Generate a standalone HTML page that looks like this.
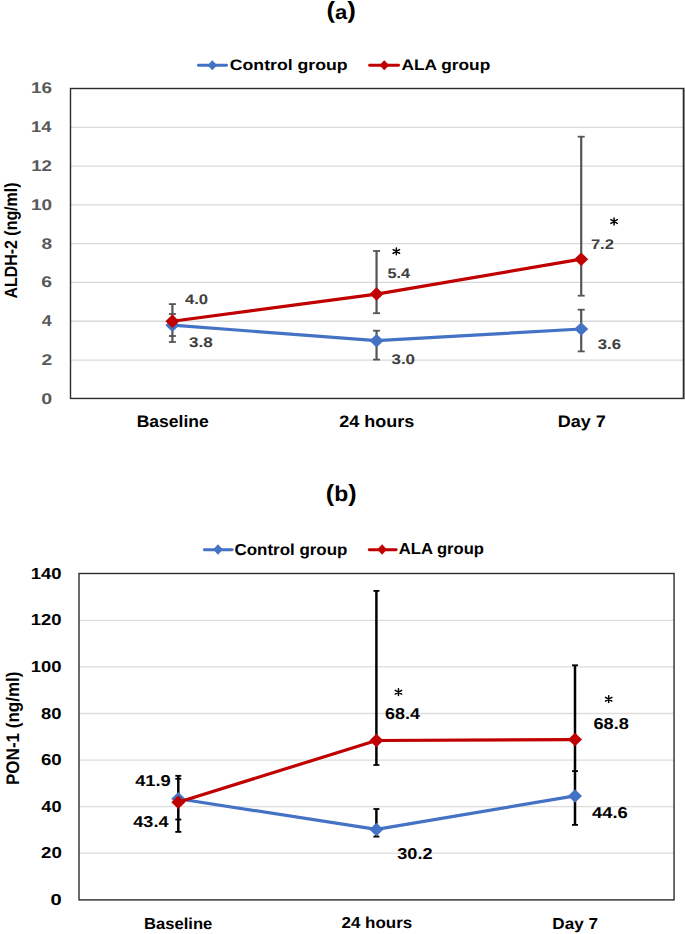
<!DOCTYPE html>
<html><head><meta charset="utf-8"><title>ALDH-2 and PON-1 charts</title>
<style>
html,body{margin:0;padding:0;background:#fff;width:685px;height:934px;overflow:hidden}
svg{display:block}
text{font-family:"Liberation Sans",sans-serif;font-weight:bold;text-rendering:geometricPrecision}
</style></head><body>
<svg width="685" height="934" viewBox="0 0 685 934">
<rect x="0" y="0" width="685" height="934" fill="#fff"/>
<line x1="198.45" y1="65.2" x2="226.55" y2="65.2" stroke="#4472C4" stroke-width="2.9" stroke-linecap="round"/>
<path d="M207.50 65.20L212.30 60.20L217.10 65.20L212.30 70.20Z" fill="#4472C4"/>
<line x1="369.65" y1="65.2" x2="398.55" y2="65.2" stroke="#C00000" stroke-width="2.9" stroke-linecap="round"/>
<path d="M379.45 65.20L384.25 60.20L389.05 65.20L384.25 70.20Z" fill="#C00000"/>
<line x1="70.5" y1="360.06" x2="683.4" y2="360.06" stroke="#D9D9D9" stroke-width="1.3"/>
<line x1="70.5" y1="321.26" x2="683.4" y2="321.26" stroke="#D9D9D9" stroke-width="1.3"/>
<line x1="70.5" y1="282.47" x2="683.4" y2="282.47" stroke="#D9D9D9" stroke-width="1.3"/>
<line x1="70.5" y1="243.67" x2="683.4" y2="243.67" stroke="#D9D9D9" stroke-width="1.3"/>
<line x1="70.5" y1="204.88" x2="683.4" y2="204.88" stroke="#D9D9D9" stroke-width="1.3"/>
<line x1="70.5" y1="166.09" x2="683.4" y2="166.09" stroke="#D9D9D9" stroke-width="1.3"/>
<line x1="70.5" y1="127.29" x2="683.4" y2="127.29" stroke="#D9D9D9" stroke-width="1.3"/>
<rect x="70.5" y="88.5" width="612.90" height="309.95" fill="none" stroke="#2b2b2b" stroke-width="1.4"/>
<rect x="684" y="87.8" width="1" height="311.4" fill="#858585"/>
<line x1="172.4" y1="304.1" x2="172.4" y2="342" stroke="#555555" stroke-width="2.2"/><line x1="168.90" y1="304.1" x2="175.90" y2="304.1" stroke="#555555" stroke-width="1.8"/><line x1="168.90" y1="314" x2="175.90" y2="314" stroke="#555555" stroke-width="1.8"/><line x1="168.90" y1="336" x2="175.90" y2="336" stroke="#555555" stroke-width="1.8"/><line x1="168.90" y1="342" x2="175.90" y2="342" stroke="#555555" stroke-width="1.8"/>
<line x1="376.55" y1="250.96" x2="376.55" y2="313.2" stroke="#555555" stroke-width="2.2"/><line x1="373.05" y1="250.96" x2="380.05" y2="250.96" stroke="#555555" stroke-width="1.8"/><line x1="373.05" y1="313.2" x2="380.05" y2="313.2" stroke="#555555" stroke-width="1.8"/>
<line x1="376.55" y1="330.7" x2="376.55" y2="359.6" stroke="#555555" stroke-width="2.2"/><line x1="373.05" y1="330.7" x2="380.05" y2="330.7" stroke="#555555" stroke-width="1.8"/><line x1="373.05" y1="359.6" x2="380.05" y2="359.6" stroke="#555555" stroke-width="1.8"/>
<line x1="581.2" y1="136.7" x2="581.2" y2="295.7" stroke="#555555" stroke-width="2.2"/><line x1="577.70" y1="136.7" x2="584.70" y2="136.7" stroke="#555555" stroke-width="1.8"/><line x1="577.70" y1="295.7" x2="584.70" y2="295.7" stroke="#555555" stroke-width="1.8"/>
<line x1="581.2" y1="309.7" x2="581.2" y2="351.4" stroke="#555555" stroke-width="2.2"/><line x1="577.70" y1="309.7" x2="584.70" y2="309.7" stroke="#555555" stroke-width="1.8"/><line x1="577.70" y1="351.4" x2="584.70" y2="351.4" stroke="#555555" stroke-width="1.8"/>
<polyline points="172.4,325.14 376.55,340.66 581.2,329.02" fill="none" stroke="#4472C4" stroke-width="3.2" stroke-linejoin="round"/>
<path d="M165.40 325.14L172.40 318.39L179.40 325.14L172.40 331.89Z" fill="#4472C4"/>
<path d="M369.55 340.66L376.55 333.91L383.55 340.66L376.55 347.41Z" fill="#4472C4"/>
<path d="M574.20 329.02L581.20 322.27L588.20 329.02L581.20 335.77Z" fill="#4472C4"/>
<polyline points="172.4,321.26 376.55,294.11 581.2,259.19" fill="none" stroke="#C00000" stroke-width="3.2" stroke-linejoin="round"/>
<path d="M165.40 321.26L172.40 314.51L179.40 321.26L172.40 328.01Z" fill="#C00000"/>
<path d="M369.55 294.11L376.55 287.36L383.55 294.11L376.55 300.86Z" fill="#C00000"/>
<path d="M574.20 259.19L581.20 252.44L588.20 259.19L581.20 265.94Z" fill="#C00000"/>
<path d="M396.35 248.00V254.80M393.15 249.55L399.55 253.25M393.15 253.25L399.55 249.55" stroke="#000" stroke-width="1.5" stroke-linecap="round" fill="none"/>
<path d="M614.06 218.10V224.90M610.86 219.65L617.26 223.35M610.86 223.35L617.26 219.65" stroke="#000" stroke-width="1.5" stroke-linecap="round" fill="none"/>
<line x1="204.35" y1="549.7" x2="232.15" y2="549.7" stroke="#4472C4" stroke-width="2.9" stroke-linecap="round"/>
<path d="M213.20 549.50L218.00 544.25L222.80 549.50L218.00 554.75Z" fill="#4472C4"/>
<line x1="369.25" y1="549.7" x2="396.15" y2="549.7" stroke="#C00000" stroke-width="2.9" stroke-linecap="round"/>
<path d="M377.30 549.60L382.10 544.35L386.90 549.60L382.10 554.85Z" fill="#C00000"/>
<line x1="79" y1="853.20" x2="674.05" y2="853.20" stroke="#DDDDDD" stroke-width="1.3"/>
<line x1="79" y1="806.63" x2="674.05" y2="806.63" stroke="#DDDDDD" stroke-width="1.3"/>
<line x1="79" y1="760.07" x2="674.05" y2="760.07" stroke="#DDDDDD" stroke-width="1.3"/>
<line x1="79" y1="713.50" x2="674.05" y2="713.50" stroke="#DDDDDD" stroke-width="1.3"/>
<line x1="79" y1="666.93" x2="674.05" y2="666.93" stroke="#DDDDDD" stroke-width="1.3"/>
<line x1="79" y1="620.36" x2="674.05" y2="620.36" stroke="#DDDDDD" stroke-width="1.3"/>
<rect x="79" y="573.5" width="595.05" height="326.40" fill="none" stroke="#2b2b2b" stroke-width="1.4"/>
<line x1="178.3" y1="775.8" x2="178.3" y2="831.9" stroke="#000" stroke-width="2.5"/><line x1="175.30" y1="775.8" x2="181.30" y2="775.8" stroke="#000" stroke-width="1.8"/><line x1="175.30" y1="778.8" x2="181.30" y2="778.8" stroke="#000" stroke-width="1.8"/><line x1="175.30" y1="819.5" x2="181.30" y2="819.5" stroke="#000" stroke-width="1.8"/><line x1="175.30" y1="831.9" x2="181.30" y2="831.9" stroke="#000" stroke-width="1.8"/>
<line x1="376.4" y1="590.9" x2="376.4" y2="765" stroke="#000" stroke-width="2.5"/><line x1="373.40" y1="590.9" x2="379.40" y2="590.9" stroke="#000" stroke-width="1.8"/><line x1="373.40" y1="765" x2="379.40" y2="765" stroke="#000" stroke-width="1.8"/>
<line x1="376.4" y1="809" x2="376.4" y2="836.6" stroke="#000" stroke-width="2.5"/><line x1="373.40" y1="809" x2="379.40" y2="809" stroke="#000" stroke-width="1.8"/><line x1="373.40" y1="836.6" x2="379.40" y2="836.6" stroke="#000" stroke-width="1.8"/>
<line x1="575.0" y1="665.3" x2="575.0" y2="824.9" stroke="#000" stroke-width="2.5"/><line x1="572.00" y1="665.3" x2="578.00" y2="665.3" stroke="#000" stroke-width="1.8"/><line x1="572.00" y1="771.1" x2="578.00" y2="771.1" stroke="#000" stroke-width="1.8"/><line x1="572.00" y1="824.9" x2="578.00" y2="824.9" stroke="#000" stroke-width="1.8"/>
<polyline points="178.3,798.72 376.4,829.45 575.0,795.92" fill="none" stroke="#4472C4" stroke-width="3.2" stroke-linejoin="round"/>
<path d="M171.30 798.72L178.30 791.97L185.30 798.72L178.30 805.47Z" fill="#4472C4"/>
<path d="M369.40 829.45L376.40 822.70L383.40 829.45L376.40 836.20Z" fill="#4472C4"/>
<path d="M568.00 795.92L575.00 789.17L582.00 795.92L575.00 802.67Z" fill="#4472C4"/>
<polyline points="178.3,802.21 376.4,740.51 575.0,739.58" fill="none" stroke="#C00000" stroke-width="3.2" stroke-linejoin="round"/>
<path d="M171.30 802.21L178.30 795.46L185.30 802.21L178.30 808.96Z" fill="#C00000"/>
<path d="M369.40 740.51L376.40 733.76L383.40 740.51L376.40 747.26Z" fill="#C00000"/>
<path d="M568.00 739.58L575.00 732.83L582.00 739.58L575.00 746.33Z" fill="#C00000"/>
<path d="M398.46 688.80V695.60M395.26 690.35L401.66 694.05M395.26 694.05L401.66 690.35" stroke="#000" stroke-width="1.5" stroke-linecap="round" fill="none"/>
<path d="M608.67 695.80V702.60M605.47 697.35L611.87 701.05M605.47 701.05L611.87 697.35" stroke="#000" stroke-width="1.5" stroke-linecap="round" fill="none"/>
<text x="326.46" y="18.45" font-size="23.41" fill="#000" textLength="29.51" lengthAdjust="spacingAndGlyphs">(<tspan font-size="20.00" dy="0.9">a</tspan><tspan dy="-0.9">)</tspan></text>
<text x="229.75" y="69.91" font-size="15.14" fill="#000" textLength="117.93" lengthAdjust="spacingAndGlyphs">Control group</text>
<text x="401.56" y="70.03" font-size="15.14" fill="#000" textLength="88.69" lengthAdjust="spacingAndGlyphs">ALA group</text>
<text x="41.18" y="403.73" font-size="15.50" fill="#595959" textLength="10.92" lengthAdjust="spacingAndGlyphs">0</text>
<text x="41.44" y="365.39" font-size="15.50" fill="#595959" textLength="10.72" lengthAdjust="spacingAndGlyphs">2</text>
<text x="41.85" y="325.87" font-size="15.50" fill="#595959" textLength="10.01" lengthAdjust="spacingAndGlyphs">4</text>
<text x="41.28" y="286.92" font-size="15.50" fill="#595959" textLength="10.74" lengthAdjust="spacingAndGlyphs">6</text>
<text x="41.42" y="248.83" font-size="15.50" fill="#595959" textLength="10.62" lengthAdjust="spacingAndGlyphs">8</text>
<text x="30.97" y="209.95" font-size="15.50" fill="#595959" textLength="21.12" lengthAdjust="spacingAndGlyphs">10</text>
<text x="31.22" y="170.60" font-size="15.50" fill="#595959" textLength="20.79" lengthAdjust="spacingAndGlyphs">12</text>
<text x="31.13" y="132.04" font-size="15.50" fill="#595959" textLength="20.46" lengthAdjust="spacingAndGlyphs">14</text>
<text x="31.01" y="93.12" font-size="15.50" fill="#595959" textLength="20.96" lengthAdjust="spacingAndGlyphs">16</text>
<text transform="translate(17.06,298.49) rotate(-90)" x="0" y="0" font-size="17.80" fill="#000" textLength="115.95" lengthAdjust="spacingAndGlyphs">ALDH-2 (ng/ml)</text>
<text x="136.74" y="427.10" font-size="16.56" fill="#000" textLength="71.93" lengthAdjust="spacingAndGlyphs">Baseline</text>
<text x="339.23" y="427.20" font-size="16.56" fill="#000" textLength="75.04" lengthAdjust="spacingAndGlyphs">24 hours</text>
<text x="557.74" y="427.10" font-size="16.56" fill="#000" textLength="48.09" lengthAdjust="spacingAndGlyphs">Day 7</text>
<text x="184.98" y="304.48" font-size="13.97" fill="#404040" textLength="23.14" lengthAdjust="spacingAndGlyphs">4.0</text>
<text x="189.12" y="347.23" font-size="13.97" fill="#404040" textLength="23.70" lengthAdjust="spacingAndGlyphs">3.8</text>
<text x="387.47" y="278.23" font-size="13.97" fill="#404040" textLength="22.63" lengthAdjust="spacingAndGlyphs">5.4</text>
<text x="391.53" y="363.64" font-size="13.97" fill="#404040" textLength="23.51" lengthAdjust="spacingAndGlyphs">3.0</text>
<text x="590.90" y="249.30" font-size="13.97" fill="#404040" textLength="23.09" lengthAdjust="spacingAndGlyphs">7.2</text>
<text x="597.67" y="348.88" font-size="13.97" fill="#404040" textLength="23.31" lengthAdjust="spacingAndGlyphs">3.6</text>
<text x="325.86" y="501.43" font-size="23.55" fill="#000" textLength="30.83" lengthAdjust="spacingAndGlyphs">(<tspan font-size="21.50" dy="0">b</tspan><tspan dy="0">)</tspan></text>
<text x="234.53" y="554.81" font-size="15.94" fill="#000" textLength="112.83" lengthAdjust="spacingAndGlyphs">Control group</text>
<text x="398.86" y="554.25" font-size="15.94" fill="#000" textLength="85.13" lengthAdjust="spacingAndGlyphs">ALA group</text>
<text x="50.58" y="904.87" font-size="15.84" fill="#000" textLength="11.19" lengthAdjust="spacingAndGlyphs">0</text>
<text x="41.04" y="857.80" font-size="15.84" fill="#000" textLength="20.75" lengthAdjust="spacingAndGlyphs">20</text>
<text x="41.39" y="811.84" font-size="15.84" fill="#000" textLength="20.23" lengthAdjust="spacingAndGlyphs">40</text>
<text x="40.96" y="764.54" font-size="15.84" fill="#000" textLength="20.77" lengthAdjust="spacingAndGlyphs">60</text>
<text x="41.03" y="718.70" font-size="15.84" fill="#000" textLength="20.48" lengthAdjust="spacingAndGlyphs">80</text>
<text x="30.81" y="671.89" font-size="15.84" fill="#000" textLength="30.81" lengthAdjust="spacingAndGlyphs">100</text>
<text x="30.81" y="624.92" font-size="15.84" fill="#000" textLength="30.81" lengthAdjust="spacingAndGlyphs">120</text>
<text x="30.81" y="578.94" font-size="15.84" fill="#000" textLength="30.81" lengthAdjust="spacingAndGlyphs">140</text>
<text transform="translate(19.46,784.98) rotate(-90)" x="0" y="0" font-size="18.24" fill="#000" textLength="113.43" lengthAdjust="spacingAndGlyphs">PON-1 (ng/ml)</text>
<text x="144.14" y="929.10" font-size="15.83" fill="#000" textLength="68.18" lengthAdjust="spacingAndGlyphs">Baseline</text>
<text x="341.47" y="928.20" font-size="15.83" fill="#000" textLength="70.83" lengthAdjust="spacingAndGlyphs">24 hours</text>
<text x="552.39" y="928.70" font-size="15.83" fill="#000" textLength="45.63" lengthAdjust="spacingAndGlyphs">Day 7</text>
<text x="135.17" y="786.02" font-size="15.71" fill="#000" textLength="35.64" lengthAdjust="spacingAndGlyphs">41.9</text>
<text x="133.34" y="827.48" font-size="15.71" fill="#000" textLength="35.12" lengthAdjust="spacingAndGlyphs">43.4</text>
<text x="385.07" y="718.77" font-size="15.71" fill="#000" textLength="34.88" lengthAdjust="spacingAndGlyphs">68.4</text>
<text x="397.25" y="858.72" font-size="15.71" fill="#000" textLength="35.27" lengthAdjust="spacingAndGlyphs">30.2</text>
<text x="593.50" y="728.66" font-size="15.71" fill="#000" textLength="35.41" lengthAdjust="spacingAndGlyphs">68.8</text>
<text x="592.00" y="818.49" font-size="15.71" fill="#000" textLength="35.77" lengthAdjust="spacingAndGlyphs">44.6</text>
</svg>
</body></html>
